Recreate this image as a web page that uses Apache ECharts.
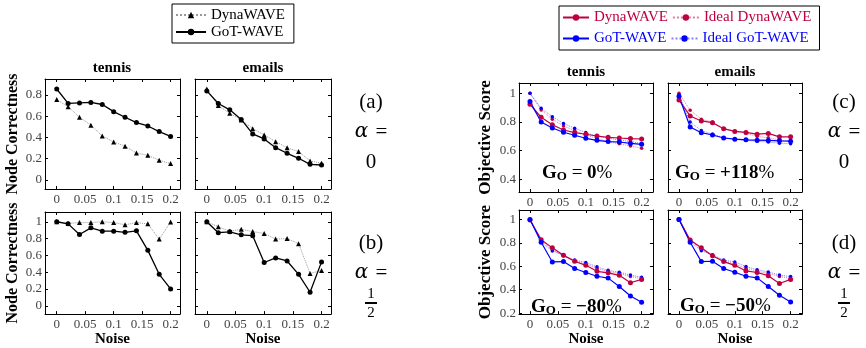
<!DOCTYPE html>
<html>
<head>
<meta charset="utf-8">
<script src="https://cdn.jsdelivr.net/npm/echarts@6/dist/echarts.min.js"></script>
<style>
html, body { margin: 0; padding: 0; background: #fff; }
#chart { width: 866px; height: 348px; }
</style>
</head>
<body>
<div id="chart"></div>
<script>
var noise = [0, 0.02, 0.04, 0.06, 0.08, 0.1, 0.12, 0.14, 0.16, 0.18, 0.2];
var xTicks = [0, 0.05, 0.1, 0.15, 0.2];
var ncTicksA = [0, 0.2, 0.4, 0.6, 0.8];
var ncTicksB = [0, 0.2, 0.4, 0.6, 0.8, 1];
var osTicksC = [0.4, 0.6, 0.8, 1];
var osTicksD = [0.2, 0.4, 0.6, 0.8, 1];

// node correctness, alpha = 0
var ncTennisGot0 = [0.856, 0.72, 0.725, 0.73, 0.71, 0.643, 0.59, 0.54, 0.508, 0.455, 0.41];
var ncTennisDyna0 = [0.756, 0.69, 0.59, 0.515, 0.414, 0.358, 0.317, 0.254, 0.232, 0.185, 0.154];
var ncEmailsGot0 = [0.838, 0.72, 0.66, 0.57, 0.433, 0.386, 0.304, 0.251, 0.204, 0.147, 0.141];
var ncEmailsDyna0 = [0.856, 0.70, 0.627, 0.565, 0.483, 0.424, 0.36, 0.304, 0.267, 0.179, 0.157];
// node correctness, alpha = 1/2
var ncTennisGotH = [1.0, 0.975, 0.848, 0.928, 0.888, 0.888, 0.874, 0.892, 0.66, 0.375, 0.202];
var ncTennisDynaH = [1.0, 0.98, 0.99, 0.99, 1.0, 0.99, 0.964, 0.99, 0.975, 0.794, 0.996];
var ncEmailsGotH = [1.0, 0.87, 0.88, 0.845, 0.834, 0.516, 0.57, 0.534, 0.375, 0.162, 0.523];
var ncEmailsDynaH = [1.0, 0.94, 0.888, 0.91, 0.884, 0.86, 0.794, 0.80, 0.74, 0.386, 0.422];

// objective score, alpha = 0
var osTennisGot0 = [0.942, 0.80, 0.758, 0.728, 0.707, 0.686, 0.672, 0.663, 0.66, 0.65, 0.644];
var osTennisDyna0 = [0.923, 0.833, 0.781, 0.744, 0.726, 0.714, 0.702, 0.693, 0.688, 0.684, 0.681];
var osTennisIdealGot0 = [1.0, 0.895, 0.837, 0.79, 0.756, 0.726, 0.70, 0.686, 0.674, 0.663, 0.65];
var osTennisIdealDyna0 = [1.0, 0.884, 0.819, 0.772, 0.74, 0.709, 0.686, 0.663, 0.647, 0.633, 0.616];
var osEmailsGot0 = [0.98, 0.765, 0.725, 0.709, 0.688, 0.68, 0.675, 0.673, 0.671, 0.668, 0.666];
var osEmailsDyna0 = [0.953, 0.842, 0.807, 0.795, 0.753, 0.734, 0.727, 0.715, 0.72, 0.696, 0.696];
var osEmailsIdealGot0 = [0.99, 0.80, 0.74, 0.715, 0.69, 0.68, 0.672, 0.665, 0.66, 0.652, 0.648];
var osEmailsIdealDyna0 = [1.0, 0.882, 0.819, 0.80, 0.753, 0.736, 0.722, 0.699, 0.689, 0.675, 0.664];
// objective score, alpha = 1/2
var osTennisGotH = [1.0, 0.805, 0.637, 0.64, 0.581, 0.547, 0.515, 0.499, 0.427, 0.347, 0.293];
var osTennisDynaH = [0.995, 0.827, 0.757, 0.693, 0.643, 0.608, 0.557, 0.544, 0.523, 0.459, 0.488];
var osTennisIdealGotH = [1.0, 0.805, 0.731, 0.693, 0.653, 0.632, 0.595, 0.565, 0.549, 0.525, 0.507];
var osTennisIdealDynaH = [1.0, 0.819, 0.741, 0.688, 0.645, 0.619, 0.581, 0.555, 0.539, 0.512, 0.496];
var osEmailsGotH = [1.0, 0.805, 0.64, 0.643, 0.581, 0.549, 0.515, 0.501, 0.427, 0.352, 0.296];
var osEmailsDynaH = [1.0, 0.824, 0.757, 0.69, 0.64, 0.608, 0.56, 0.547, 0.52, 0.453, 0.488];
var osEmailsIdealGotH = [1.0, 0.808, 0.733, 0.699, 0.653, 0.637, 0.597, 0.571, 0.552, 0.525, 0.512];
var osEmailsIdealDynaH = [1.0, 0.82, 0.745, 0.688, 0.645, 0.62, 0.583, 0.557, 0.54, 0.513, 0.497];

var gains = ['0', '+118', '\u221280', '\u221250'];

var SERIF = 'Liberation Serif';
var RED = '#BF0040';
var BLUE = '#0000FF';

var myChart = echarts.init(document.getElementById('chart'));

function pts(arr) {
    return arr.map(function (v, i) { return [noise[i], v]; });
}

// left block: node correctness
function ncSeries(dyna, got) {
    return [{
        name: 'DynaWAVE', data: pts(dyna), symbol: 'triangle', symbolSize: 5,
        itemStyle: {color: '#000'}, lineStyle: {color: '#999', width: 1, type: 'dotted'}
    }, {
        name: 'GoT-WAVE', data: pts(got), symbol: 'circle', symbolSize: 5,
        itemStyle: {color: '#000'}, lineStyle: {color: '#000', width: 1.3}
    }];
}

// right block: objective score
function osSeries(dyna, got, idealDyna, idealGot) {
    return [{
        name: 'r:Ideal DynaWAVE', data: pts(idealDyna), symbol: 'circle', symbolSize: 3.5,
        itemStyle: {color: RED}, lineStyle: {color: RED, width: 1, type: 'dotted', opacity: 0.5}
    }, {
        name: 'r:Ideal GoT-WAVE', data: pts(idealGot), symbol: 'circle', symbolSize: 3.5,
        itemStyle: {color: BLUE}, lineStyle: {color: BLUE, width: 1, type: 'dotted', opacity: 0.5}
    }, {
        name: 'r:DynaWAVE', data: pts(dyna), symbol: 'circle', symbolSize: 5,
        itemStyle: {color: RED}, lineStyle: {color: RED, width: 1.2}
    }, {
        name: 'r:GoT-WAVE', data: pts(got), symbol: 'circle', symbolSize: 5,
        itemStyle: {color: BLUE}, lineStyle: {color: BLUE, width: 1.2}
    }];
}

var xL = [-0.0206, 0.2165];
var xR = [-0.0197, 0.2204];

var panels = [
    {box: [45, 79, 135, 110], x: xL, y: [-0.085, 0.95], yTicks: ncTicksA, yName: 'Node Correctness', noiseName: false, series: ncSeries(ncTennisDyna0, ncTennisGot0)},
    {box: [195, 79, 136, 110], x: xL, y: [-0.085, 0.95], yTicks: ncTicksA, yName: null, noiseName: false, series: ncSeries(ncEmailsDyna0, ncEmailsGot0)},
    {box: [45, 212, 135, 112], x: xL, y: [-0.0975, 1.116], yTicks: ncTicksB, yName: 'Node Correctness', noiseName: true, series: ncSeries(ncTennisDynaH, ncTennisGotH)},
    {box: [195, 212, 136, 112], x: xL, y: [-0.0975, 1.116], yTicks: ncTicksB, yName: null, noiseName: true, series: ncSeries(ncEmailsDynaH, ncEmailsGotH)},
    {box: [519, 83, 134, 109], x: xR, y: [0.311, 1.072], yTicks: osTicksC, yName: 'Objective Score', noiseName: false, series: osSeries(osTennisDyna0, osTennisGot0, osTennisIdealDyna0, osTennisIdealGot0)},
    {box: [668, 83, 134, 109], x: xR, y: [0.311, 1.072], yTicks: osTicksC, yName: null, noiseName: false, series: osSeries(osEmailsDyna0, osEmailsGot0, osEmailsIdealDyna0, osEmailsIdealGot0)},
    {box: [519, 210, 134, 111], x: xR, y: [0.192, 1.08], yTicks: osTicksD, yName: 'Objective Score', noiseName: true, series: osSeries(osTennisDynaH, osTennisGotH, osTennisIdealDynaH, osTennisIdealGotH)},
    {box: [668, 210, 134, 111], x: xR, y: [0.192, 1.08], yTicks: osTicksD, yName: null, noiseName: true, series: osSeries(osEmailsDynaH, osEmailsGotH, osEmailsIdealDynaH, osEmailsIdealGotH)}
];

var grids = [], xAxes = [], yAxes = [], series = [];
var frame = {onZero: false, lineStyle: {color: '#000', width: 1}};
var tickLabel = {fontFamily: SERIF, fontSize: 13, color: '#444'};
var axisNameStyle = {fontFamily: SERIF, fontSize: 15, fontWeight: 'bold', color: '#000'};

panels.forEach(function (p, i) {
    grids.push({left: p.box[0], top: p.box[1], width: p.box[2], height: p.box[3]});
    ['bottom', 'top'].forEach(function (pos) {
        xAxes.push({
            gridIndex: i, type: 'value', position: pos, min: p.x[0], max: p.x[1],
            axisLine: frame,
            axisTick: {inside: true, length: 3, customValues: xTicks, lineStyle: {color: '#000'}},
            axisLabel: Object.assign({show: pos === 'bottom', customValues: xTicks, margin: 4}, tickLabel),
            splitLine: {show: false},
            name: (pos === 'bottom' && p.noiseName) ? 'Noise' : '',
            nameLocation: 'middle', nameGap: 11, nameTextStyle: axisNameStyle
        });
    });
    ['left', 'right'].forEach(function (pos) {
        yAxes.push({
            gridIndex: i, type: 'value', position: pos, min: p.y[0], max: p.y[1],
            axisLine: frame,
            axisTick: {inside: true, length: 3, customValues: p.yTicks, lineStyle: {color: '#000'}},
            axisLabel: Object.assign({show: pos === 'left' && !!p.yName, customValues: p.yTicks, margin: 3}, tickLabel),
            splitLine: {show: false},
            name: (pos === 'left' && p.yName) ? p.yName : '',
            nameLocation: 'middle', nameGap: p.x === xL ? 24 : 25, nameRotate: 90,
            nameTextStyle: Object.assign({}, axisNameStyle, {fontSize: p.x === xL ? 16 : 17})
        });
    });
    p.series.forEach(function (s) {
        series.push(Object.assign({
            type: 'line', xAxisIndex: 2 * i, yAxisIndex: 2 * i, animation: false
        }, s));
    });
});

var labelFont = {fontFamily: SERIF, fill: '#000', textAlign: 'center', textVerticalAlign: 'middle'};
var graphics = [];
function centered(x, y, s, size, weight) {
    graphics.push({type: 'text', x: x, y: y, style: Object.assign({}, labelFont, {text: s, fontSize: size, fontWeight: weight || 'normal'})});
}
centered(112, 68, 'tennis', 15, 'bold');
centered(263, 68, 'emails', 15, 'bold');
centered(586, 72, 'tennis', 15, 'bold');
centered(735, 72, 'emails', 15, 'bold');

function alphaLabel(cx, yTop, tag, half) {
    centered(cx, yTop, tag, 21);
    graphics.push({type: 'text', x: cx, y: yTop + 30, style: Object.assign({}, labelFont, {
        text: '{a|\u03b1} =', fontSize: 21,
        rich: {a: {fontFamily: 'DejaVu Serif', fontStyle: 'italic', fontSize: 20, padding: [0, 2, 0, 0]}}
    })});
    if (!half) {
        centered(cx, yTop + 60, '0', 21);
    } else {
        centered(cx, yTop + 51, '1', 15);
        graphics.push({type: 'rect', shape: {x: cx - 6, y: yTop + 59, width: 12, height: 2}, style: {fill: '#000'}});
        centered(cx, yTop + 70, '2', 15);
    }
}
alphaLabel(371, 102, '(a)', false);
alphaLabel(371, 243, '(b)', true);
alphaLabel(844, 102, '(c)', false);
alphaLabel(844, 243, '(d)', true);

var gainPos = [[542, 173], [675, 173], [531, 307], [680, 306]];
gains.forEach(function (g, i) {
    graphics.push({type: 'text', x: gainPos[i][0], y: gainPos[i][1], z: 10, style: {
        text: '{g|G}{o|O}{e| = }{v|' + g + '}{p|%}',
        fontFamily: SERIF, textVerticalAlign: 'middle', textAlign: 'left',
        rich: {
            g: {fontFamily: SERIF, fontSize: 19, fontWeight: 'bold', color: '#222'},
            o: {fontFamily: SERIF, fontSize: 13, fontWeight: 'bold', color: '#222', padding: [7, 0, 0, 0]},
            e: {fontFamily: SERIF, fontSize: 19, color: '#222'},
            v: {fontFamily: SERIF, fontSize: 19, fontWeight: 'bold', color: '#222'},
            p: {fontFamily: SERIF, fontSize: 19, color: '#555'}
        }
    }});
});

var legendText = {fontFamily: SERIF, fontSize: 15, color: '#000'};
option = {
    animation: false,
    backgroundColor: '#fff',
    textStyle: {fontFamily: SERIF},
    legend: [{
        orient: 'vertical', left: 172, top: 4,
        data: ['DynaWAVE', 'GoT-WAVE'],
        borderColor: '#000', borderWidth: 1, padding: [3, 9, 3, 3],
        itemGap: 1, itemWidth: 30, itemHeight: 8,
        textStyle: Object.assign({lineHeight: 16}, legendText)
    }, {
        orient: 'horizontal', left: 559, top: 6, width: 262,
        data: [
            {name: 'r:DynaWAVE', textStyle: {color: RED, fontFamily: SERIF}},
            {name: 'r:Ideal DynaWAVE', textStyle: {color: RED, fontFamily: SERIF}},
            {name: 'r:GoT-WAVE', textStyle: {color: BLUE, fontFamily: SERIF}},
            {name: 'r:Ideal GoT-WAVE', textStyle: {color: BLUE, fontFamily: SERIF}}
        ],
        formatter: function (name) { return name.replace(/^r:/, ''); },
        borderColor: '#000', borderWidth: 1, padding: [3, 8, 3, 3],
        itemGap: 4, itemWidth: 26, itemHeight: 8,
        textStyle: Object.assign({lineHeight: 17}, legendText)
    }],
    grid: grids,
    xAxis: xAxes,
    yAxis: yAxes,
    series: series,
    graphic: graphics
};
myChart.setOption(option);
</script>
</body>
</html>
